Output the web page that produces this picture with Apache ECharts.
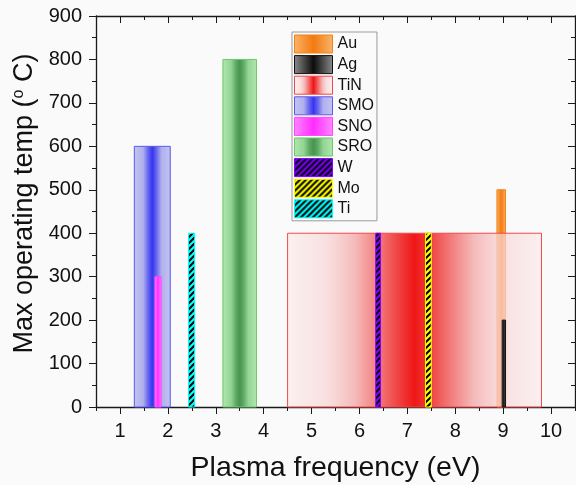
<!DOCTYPE html>
<html>
<head>
<meta charset="utf-8">
<script src="https://cdn.jsdelivr.net/npm/echarts@6/dist/echarts.min.js"></script>
<style>
  html, body { margin: 0; padding: 0; background: #fafafa; }
  #chart { width: 576px; height: 485px; }
</style>
</head>
<body>
<div id="chart"></div>
<script>
// Materials, in legend order
const materials = ['Au', 'Ag', 'TiN', 'SMO', 'SNO', 'SRO', 'W', 'Mo', 'Ti'];
// Plasma frequency span of each material (eV)
const freqLow  = [8.87, 8.98, 4.50, 1.30, 1.73, 3.15, 6.34, 7.38, 2.43];
const freqHigh = [9.05, 9.05, 9.80, 2.05, 1.86, 3.85, 6.44, 7.50, 2.56];
// Maximum operating temperature (°C)
const maxTemp  = [500, 200, 400, 600, 300, 800, 400, 400, 400];
// Back-to-front drawing order of the bars
const drawOrder = ['SMO', 'SNO', 'Ti', 'SRO', 'Au', 'TiN', 'W', 'Mo', 'Ag'];
// Tick positions on the frequency axis
const xMajorTicks = [1, 2, 3, 4, 5, 6, 7, 8, 9, 10];
const xMinorTicks = [0.5, 1.5, 2.5, 3.5, 4.5, 5.5, 6.5, 7.5, 8.5, 9.5, 10.5];

const FONT = 'Liberation Sans, Arial, sans-serif';

// Horizontal gradient across a bar
function hGrad(stops) {
  return new echarts.graphic.LinearGradient(0, 0, 1, 0,
    stops.map(([offset, color]) => ({ offset, color })));
}

// Diagonal black hatching on a solid colour
function hatch(bg) {
  const s = 6;
  const c = document.createElement('canvas');
  c.width = s; c.height = s;
  const g = c.getContext('2d');
  g.fillStyle = bg;
  g.fillRect(0, 0, s, s);
  g.strokeStyle = '#000';
  g.lineWidth = 2;
  g.beginPath();
  g.moveTo(-1, s + 1); g.lineTo(s + 1, -1);
  g.moveTo(-1, 1); g.lineTo(1, -1);
  g.moveTo(s - 1, s + 1); g.lineTo(s + 1, s - 1);
  g.stroke();
  return { image: c, repeat: 'repeat' };
}

const look = {
  Au:  { fill: hGrad([[0, '#f9b46a'], [0.5, '#f47a10'], [1, '#f9b46a']]), stroke: '#f08418' },
  Ag:  { fill: hGrad([[0, '#8c8c8c'], [0.5, '#0c0c0c'], [1, '#8c8c8c']]), stroke: '#111111' },
  TiN: { fill: hGrad([
           [0, 'rgba(251,236,236,0.7)'], [0.15, 'rgba(249,214,214,0.7)'],
           [0.27, '#f5b8b8'], [0.36, '#f27a7a'], [0.45, '#f03838'], [0.5, '#f01616'],
           [0.55, '#f03838'], [0.64, '#f27a7a'], [0.73, '#f5b8b8'],
           [0.85, 'rgba(249,214,214,0.7)'], [1, 'rgba(251,236,236,0.7)']]),
         stroke: '#f04848' },
  SMO: { fill: hGrad([[0, '#c4c4f0'], [0.25, '#b0b0ee'], [0.38, '#6a6af0'], [0.5, '#3535f0'],
                      [0.62, '#6a6af0'], [0.75, '#b0b0ee'], [1, '#c4c4f0']]), stroke: '#5a5af0' },
  SNO: { fill: hGrad([[0, '#ff88ff'], [0.5, '#ff2cff'], [1, '#ff88ff']]), stroke: '#ff44ff' },
  SRO: { fill: hGrad([[0, '#b0e8b0'], [0.25, '#94d494'], [0.4, '#5aa862'], [0.5, '#4a9450'],
                      [0.6, '#5aa862'], [0.75, '#94d494'], [1, '#b0e8b0']]), stroke: '#6cc86c' },
  W:   { fill: hatch('#7f00ff'), stroke: '#7f00ff' },
  Mo:  { fill: hatch('#ffff00'), stroke: '#ffff00' },
  Ti:  { fill: hatch('#00ffff'), stroke: '#00ffff' }
};

// One rectangle per material: [low freq, high freq, max temp]
function barSeries(name) {
  const i = materials.indexOf(name);
  return {
    type: 'custom',
    name: name,
    xAxisIndex: 0,
    yAxisIndex: 0,
    silent: true,
    data: [[freqLow[i], freqHigh[i], maxTemp[i]]],
    encode: { x: [0, 1], y: 2 },
    itemStyle: { color: look[name].stroke },
    renderItem: function (params, api) {
      const topLeft = api.coord([api.value(0), api.value(2)]);
      const bottomRight = api.coord([api.value(1), 0]);
      return {
        type: 'rect',
        shape: {
          x: topLeft[0], y: topLeft[1],
          width: bottomRight[0] - topLeft[0],
          height: bottomRight[1] - topLeft[1]
        },
        style: { fill: look[name].fill, stroke: look[name].stroke, lineWidth: 1 }
      };
    }
  };
}

const axisLine = { show: true, onZero: false, lineStyle: { color: '#1a1a1a', width: 1.3 } };
const noLine = { show: false, onZero: false };
const tickLine = { color: '#1a1a1a', width: 1 };
const gridBox = { left: 96, right: 1, top: 16, bottom: 78, outerBoundsMode: 'none', containLabel: false };

const chart = echarts.init(document.getElementById('chart'), null, { renderer: 'canvas' });
chart.setOption({
  backgroundColor: '#fafafa',
  animation: false,
  textStyle: { fontFamily: FONT },
  grid: [Object.assign({}, gridBox), Object.assign({}, gridBox)],
  legend: {
    orient: 'vertical',
    left: 292, top: 32,
    itemWidth: 38, itemHeight: 18, itemGap: 1.6,
    padding: [2.5, 3, 2.5, 2],
    borderColor: '#9a9a9a', borderWidth: 1,
    backgroundColor: '#fafafa',
    selectedMode: false,
    icon: 'rect',
    textStyle: { fontSize: 16, lineHeight: 18, color: '#111', fontFamily: FONT },
    data: materials.map(m => ({
      name: m,
      itemStyle: { color: look[m].fill, borderColor: look[m].stroke, borderWidth: 1 }
    }))
  },
  xAxis: [
    {
      gridIndex: 0, type: 'value', position: 'bottom', min: 0.5, max: 10.5,
      axisLine: axisLine,
      axisTick: { show: true, customValues: xMajorTicks, length: 7, lineStyle: tickLine },
      axisLabel: { customValues: xMajorTicks, fontSize: 20, color: '#111', margin: 14, fontFamily: FONT },
      splitLine: { show: false },
      name: 'Plasma frequency (eV)', nameLocation: 'middle', nameGap: 47,
      nameTextStyle: { fontSize: 28.5, color: '#111', fontFamily: FONT }
    },
    {
      gridIndex: 0, type: 'value', position: 'top', min: 0.5, max: 10.5,
      axisLine: axisLine,
      axisTick: { show: true, inside: true, customValues: xMajorTicks, length: 7, lineStyle: tickLine },
      axisLabel: { show: false },
      splitLine: { show: false }
    },
    {
      gridIndex: 1, type: 'value', position: 'bottom', min: 0.5, max: 10.5,
      axisLine: noLine,
      axisTick: { show: true, customValues: xMinorTicks, length: 4, lineStyle: tickLine },
      axisLabel: { show: false },
      splitLine: { show: false }
    },
    {
      gridIndex: 1, type: 'value', position: 'top', min: 0.5, max: 10.5,
      axisLine: noLine,
      axisTick: { show: true, inside: true, customValues: xMinorTicks, length: 4, lineStyle: tickLine },
      axisLabel: { show: false },
      splitLine: { show: false }
    }
  ],
  yAxis: [
    {
      gridIndex: 0, type: 'value', position: 'left', min: 0, max: 900, interval: 100,
      axisLine: axisLine,
      axisTick: { show: true, length: 7, lineStyle: tickLine },
      minorTick: { show: true, splitNumber: 2, length: 4, lineStyle: tickLine },
      axisLabel: { fontSize: 20, color: '#111', margin: 14, fontFamily: FONT },
      splitLine: { show: false },
      name: 'Max operating temp ({sup|o} C)', nameLocation: 'middle', nameGap: 46,
      nameTextStyle: {
        fontSize: 27, color: '#111', fontFamily: FONT,
        padding: [0, 0, 0, 16],
        rich: { sup: { fontSize: 16, color: '#111', fontFamily: FONT, verticalAlign: 'top', padding: [0, 0, 10, 0] } }
      }
    },
    {
      gridIndex: 0, type: 'value', position: 'right', min: 0, max: 900, interval: 100,
      axisLine: axisLine,
      axisTick: { show: true, inside: true, length: 7, lineStyle: tickLine },
      minorTick: { show: true, splitNumber: 2, length: 4, lineStyle: tickLine },
      axisLabel: { show: false },
      splitLine: { show: false }
    },
    { gridIndex: 1, type: 'value', min: 0, max: 900, show: false },
    { gridIndex: 1, type: 'value', min: 0, max: 900, show: false, position: 'right' }
  ],
  series: drawOrder.map(barSeries)
});
</script>
</body>
</html>
